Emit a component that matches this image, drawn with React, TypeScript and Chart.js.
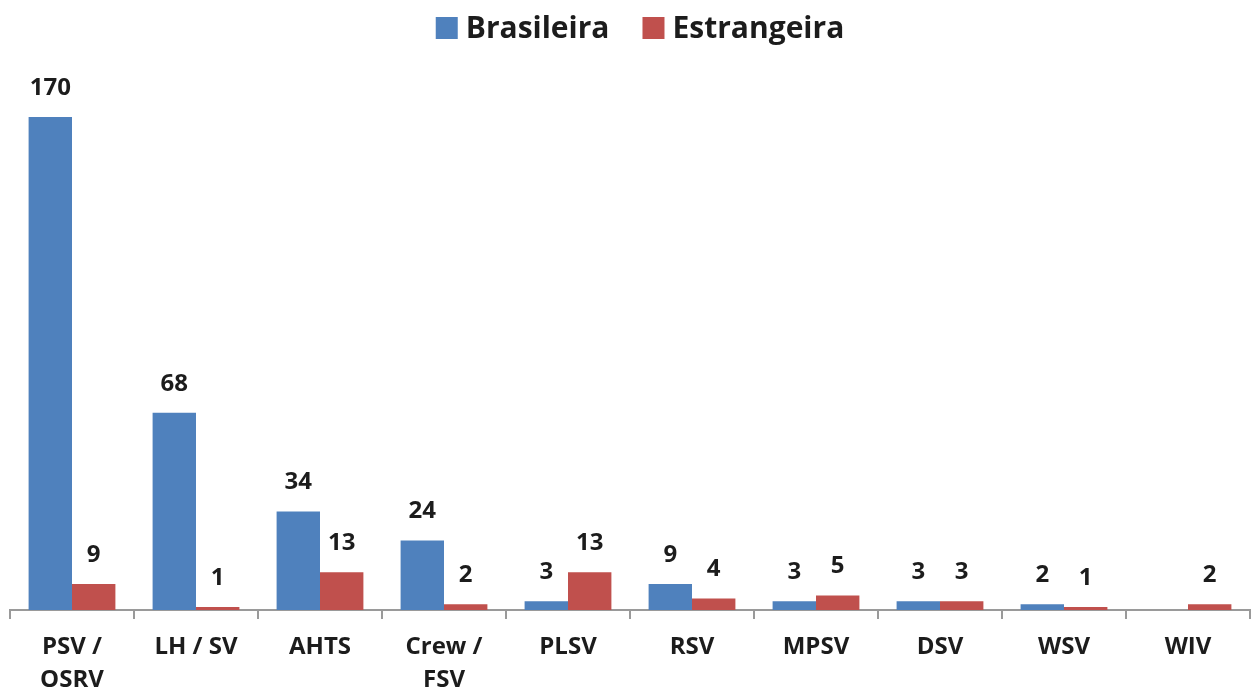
import React, { useEffect, useRef } from "react";
import { Chart, registerables } from "chart.js";

Chart.register(...registerables);

const categories: (string | string[])[] = [
  ["PSV /", "OSRV"],
  "LH / SV",
  "AHTS",
  ["Crew /", "FSV"],
  "PLSV",
  "RSV",
  "MPSV",
  "DSV",
  "WSV",
  "WIV",
];
const brasileira: (number | null)[] = [170, 68, 34, 24, 3, 9, 3, 3, 2, null];
const estrangeira: (number | null)[] = [9, 1, 13, 2, 13, 4, 5, 3, 1, 2];

const BLUE = "#4F81BD";
const RED = "#C0504D";
const TEXT = "#1c1c1c";
const FONT = "'Open Sans', sans-serif";

const labelPlugin = {
  id: "valueLabels",
  afterDatasetsDraw(chart: any) {
    const ctx = chart.ctx;
    ctx.save();
    ctx.font = `bold 24px ${FONT}`;
    ctx.fillStyle = TEXT;
    ctx.textAlign = "center";
    ctx.textBaseline = "middle";
    chart.data.datasets.forEach((ds: any, i: number) => {
      const meta = chart.getDatasetMeta(i);
      meta.data.forEach((bar: any, j: number) => {
        const v = ds.data[j];
        if (v === null || v === undefined) return;
        ctx.fillText(String(v), bar.x, bar.y - 29);
      });
    });
    ctx.restore();
  },
};

const legendPlugin = {
  id: "customLegend",
  afterDraw(chart: any) {
    const ctx = chart.ctx;
    ctx.save();
    ctx.font = `bold 30px ${FONT}`;
    ctx.textBaseline = "middle";
    const items = chart.data.datasets.map((d: any) => ({
      text: d.label,
      color: d.backgroundColor,
      w: ctx.measureText(d.label).width,
    }));
    const box = 22;
    const gap = 8;
    const itemGap = 33;
    let total = 0;
    items.forEach((it: any, i: number) => {
      total += box + gap + it.w + (i < items.length - 1 ? itemGap : 0);
    });
    const cy = 28;
    let x = 640 - total / 2;
    items.forEach((it: any) => {
      ctx.fillStyle = it.color;
      ctx.fillRect(x, cy - box / 2, box, box);
      x += box + gap;
      ctx.fillStyle = TEXT;
      ctx.fillText(it.text, x, cy + 1);
      x += it.w + itemGap;
    });
    ctx.restore();
  },
};

export default function App() {
  const ref = useRef<HTMLCanvasElement>(null);
  useEffect(() => {
    document.body.style.margin = "0";
    const chart = new Chart(ref.current!, {
      type: "bar",
      data: {
        labels: categories,
        datasets: [
          {
            label: "Brasileira",
            data: brasileira,
            backgroundColor: BLUE,
            categoryPercentage: 0.7,
            barPercentage: 1.0,
          },
          {
            label: "Estrangeira",
            data: estrangeira,
            backgroundColor: RED,
            categoryPercentage: 0.7,
            barPercentage: 1.0,
          },
        ],
      },
      options: {
        responsive: false,
        animation: false,
        layout: { padding: { left: 10, right: 1, top: 88, bottom: 0 } },
        plugins: {
          legend: { display: false },
          tooltip: { enabled: false },
        },
        scales: {
          y: { display: false, min: 0, max: 180 },
          x: {
            afterFit: (scale: any) => {
              scale.height = 88;
            },
            border: { display: true, color: "#9a9a9a", width: 2 },
            grid: {
              display: true,
              drawOnChartArea: false,
              drawTicks: true,
              tickLength: 9,
              color: "#9a9a9a",
              lineWidth: 2,
            },
            ticks: {
              color: TEXT,
              padding: 12,
              maxRotation: 0,
              autoSkip: false,
              font: { family: FONT, size: 24, weight: "bold", lineHeight: 1.375 },
            },
          },
        },
      },
      plugins: [labelPlugin, legendPlugin],
    });
    return () => chart.destroy();
  }, []);
  return (
    <div style={{ width: 1251, height: 698, background: "#fff" }}>
      <canvas ref={ref} width={1251} height={698} />
    </div>
  );
}
